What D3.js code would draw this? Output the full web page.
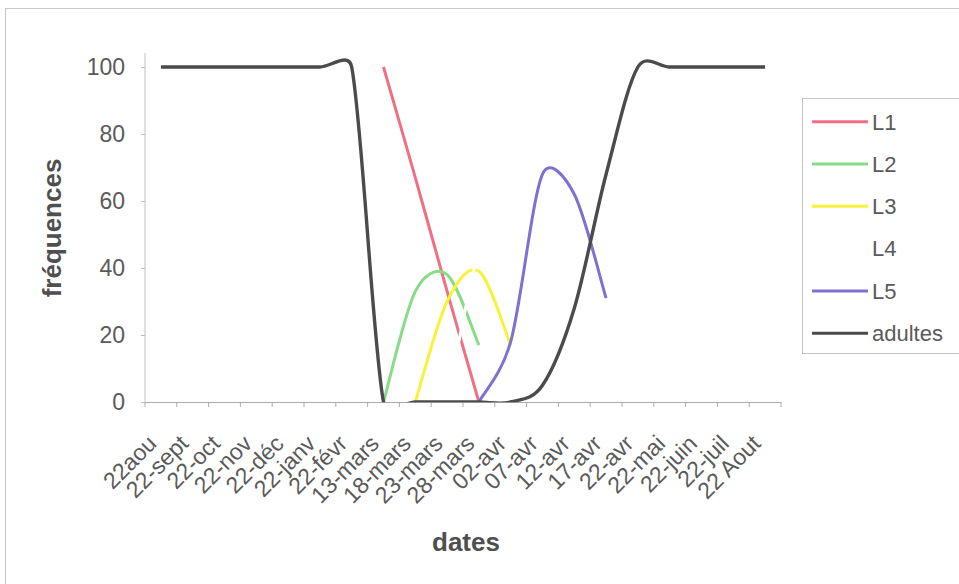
<!DOCTYPE html>
<html>
<head>
<meta charset="utf-8">
<script src="https://cdn.jsdelivr.net/npm/d3@7"></script>
<style>
  html, body { margin: 0; padding: 0; background: #ffffff; }
  svg { display: block; font-family: "Liberation Sans", Arial, sans-serif; }
</style>
</head>
<body>
<svg id="chart" width="959" height="584"></svg>
<script>
// ---- data ----
const categories = ["22aou","22-sept","22-oct","22-nov","22-déc","22-janv","22-févr","13-mars","18-mars","23-mars","28-mars","02-avr","07-avr","12-avr","17-avr","22-avr","22-mai","22-juin","22-juil","22 Aout"];
const L1      = [null,null,null,null,null,null,null,100,67,33,0,null,null,null,null,null,null,null,null,null];
const L2      = [null,null,null,null,null,null,null,0,33,38,17,null,null,null,null,null,null,null,null,null];
const L3      = [null,null,null,null,null,null,null,null,0,30,39,17,null,null,null,null,null,null,null,null];
const L4      = [null,null,null,null,null,null,null,null,null,0,45,63,29,null,null,null,null,null,null,null];
const L5      = [null,null,null,null,null,null,null,null,null,null,0,18,68,62,31,null,null,null,null,null];
const adultes = [100,100,100,100,100,100,100,0,0,0,0,0,5,28,68,100,100,100,100,100];
const seriesNames = ["L1","L2","L3","L4","L5","adultes"];
const seriesColors = ["#ef7083","#86dd86","#f7f23c","#ffffff","#7d72cf","#4b4b4b"];
const yTicks = [0,20,40,60,80,100];
const yTitle = "fréquences";
const xTitle = "dates";

const seriesValues = [L1,L2,L3,L4,L5,adultes];

// Spreadsheet-style smoothing: Bezier with tangents (p2-p0)/6, each capped at half the segment length
function SmoothCurve(context) { this._context = context; }
SmoothCurve.prototype = {
  areaStart() { this._line = 0; },
  areaEnd() { this._line = NaN; },
  lineStart() { this._pts = []; },
  point(x, y) { this._pts.push([+x, +y]); },
  lineEnd() {
    const p = this._pts, n = p.length, c = this._context;
    if (!n) return;
    c.moveTo(p[0][0], p[0][1]);
    for (let i = 0; i < n - 1; i++) {
      const p0 = p[i-1] || p[i], p1 = p[i], p2 = p[i+1], p3 = p[i+2] || p[i+1];
      const d12 = Math.hypot(p2[0]-p1[0], p2[1]-p1[1]);
      let t1 = [(p2[0]-p0[0])/6, (p2[1]-p0[1])/6];
      let t2 = [(p3[0]-p1[0])/6, (p3[1]-p1[1])/6];
      const l1 = Math.hypot(t1[0], t1[1]), l2 = Math.hypot(t2[0], t2[1]);
      if (l1 > d12/2) { const s = (d12/2)/l1; t1 = [t1[0]*s, t1[1]*s]; }
      if (l2 > d12/2) { const s = (d12/2)/l2; t2 = [t2[0]*s, t2[1]*s]; }
      c.bezierCurveTo(p1[0]+t1[0], p1[1]+t1[1], p2[0]-t2[0], p2[1]-t2[1], p2[0], p2[1]);
    }
  }
};
const curveSmooth = ctx => new SmoothCurve(ctx);

const svg = d3.select("#chart");
const textColor = "#5a5a5a";

// outer chart border
svg.append("rect").attr("x",5.5).attr("y",8.5).attr("width",980).attr("height",600)
  .attr("fill","none").attr("stroke","#c8c8c8").attr("stroke-width",1);

const x = d3.scaleBand().domain(categories).range([145,781]).paddingInner(0).paddingOuter(0);
const y = d3.scaleLinear().domain([0,100]).range([402,67]);
const cx = c => x(c) + x.bandwidth()/2;

// clip
svg.append("clipPath").attr("id","plotclip").append("rect")
  .attr("x",145).attr("y",40).attr("width",640).attr("height",402.2-40);

// y axis
const yAxis = svg.append("g").attr("transform","translate(145,0)")
  .call(d3.axisLeft(y).tickValues(yTicks).tickSize(4).tickPadding(16));
yAxis.select(".domain").remove();
yAxis.selectAll(".tick line").attr("stroke","#b8bcc4");
yAxis.selectAll(".tick text").attr("fill",textColor).style("font-size","23px")
  .attr("font-family","Liberation Sans, Arial, sans-serif");
svg.append("line").attr("x1",145).attr("x2",145).attr("y1",53).attr("y2",y(0))
  .attr("stroke","#c0c3c8").attr("stroke-width",1);

// x axis
const xAxis = svg.append("g").attr("transform",`translate(0,${y(0)})`)
  .call(d3.axisBottom(x).tickSize(0).tickPadding(0));
xAxis.select(".domain").attr("stroke","#a9abb0").attr("stroke-width",1.2);
xAxis.selectAll(".tick text")
  .attr("fill",textColor).style("font-size","23px")
  .attr("font-family","Liberation Sans, Arial, sans-serif")
  .attr("text-anchor","end").attr("y",0).attr("dy",0)
  .attr("transform","translate(-3,43) rotate(-45)");
// tick marks between categories
const boundaries = categories.map(c => x(c)).concat([x(categories[categories.length-1]) + x.bandwidth()]);
svg.append("g").selectAll("line").data(boundaries).join("line")
  .attr("x1",d=>d).attr("x2",d=>d).attr("y1",y(0)).attr("y2",y(0)+5)
  .attr("stroke","#a9abb0").attr("stroke-width",1);

// lines
const line = d3.line()
  .defined(d => d.v !== null)
  .x(d => cx(d.c))
  .y(d => y(d.v))
  .curve(curveSmooth);

const plot = svg.append("g").attr("clip-path","url(#plotclip)");
seriesValues.forEach((vals,i) => {
  const pts = categories.map((c,j) => ({c, v: vals[j]}));
  plot.append("path").datum(pts)
    .attr("fill","none")
    .attr("stroke",seriesColors[i])
    .attr("stroke-width", i===5 ? 3.4 : 3)
    .attr("stroke-linejoin","round")
    .attr("stroke-linecap","butt")
    .attr("d",line);
});

// axis titles
svg.append("text").attr("x",466).attr("y",551).attr("text-anchor","middle")
  .attr("fill","#4f4f4f").style("font-size","26px").style("font-weight","bold").text(xTitle);
svg.append("text").attr("transform","translate(61,228) rotate(-90)").attr("text-anchor","middle")
  .attr("fill","#4f4f4f").style("font-size","26px").style("font-weight","bold").text(yTitle);

// legend
const lg = svg.append("g");
lg.append("rect").attr("x",802.5).attr("y",98.5).attr("width",180).attr("height",255)
  .attr("fill","#ffffff").attr("stroke","#c4c4c4").attr("stroke-width",1);
seriesNames.forEach((n,i) => {
  const yy = 121.7 + i*42.3;
  lg.append("line").attr("x1",812).attr("x2",868).attr("y1",yy).attr("y2",yy)
    .attr("stroke",seriesColors[i]).attr("stroke-width",3);
  lg.append("text").attr("x",872).attr("y",yy+7.8).attr("fill",textColor)
    .style("font-size","22px").text(n);
});
</script>
</body>
</html>
